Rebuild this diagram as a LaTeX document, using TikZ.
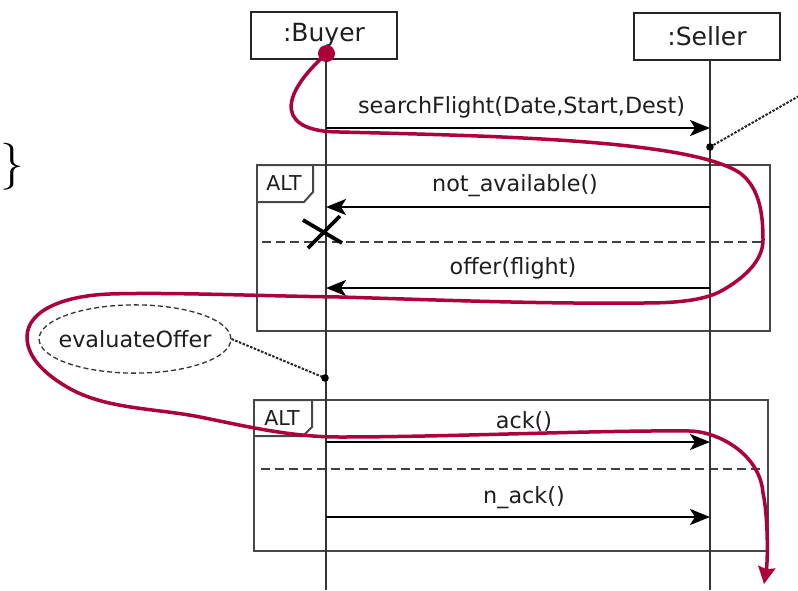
\documentclass[tikz,border=0pt]{standalone}
\usepackage{fontspec}
\newfontfamily\dejavu{DejaVu Sans}
\usetikzlibrary{arrows.meta,shapes.geometric}
\definecolor{trace}{RGB}{172,0,56}
\definecolor{ink}{RGB}{30,30,30}
\tikzset{
  lifebox/.style={draw=black!85, line width=2pt, fill=white, minimum width=146pt, minimum height=47pt, inner sep=0pt, text=ink, font=\dejavu\fontsize{25}{25}\selectfont},
  lifeline/.style={draw=black!80, line width=2.3pt},
  msg/.style={draw=black, line width=2.2pt, -{Stealth[length=20pt,width=16pt,inset=5pt]}},
  framebox/.style={draw=black!72, line width=2pt},
  sepline/.style={draw=black!75, line width=2pt, dash pattern=on 9pt off 5pt},
  lbl/.style={inner sep=0pt, text=ink, font=\dejavu\fontsize{22.3}{22.3}\selectfont},
  altlbl/.style={inner sep=0pt, text=ink, font=\dejavu\fontsize{20.5}{20.5}\selectfont},
  noteline/.style={draw=black!85, line width=2pt, dash pattern=on 2.5pt off 1.5pt},
  tracepath/.style={draw=trace, line width=3.5pt, -{Stealth[length=17pt,width=17pt,inset=2pt]}},
}
\begin{document}
\begin{tikzpicture}[x=1pt,y=-1pt]
\useasboundingbox (0,0) rectangle (798,590);
\fill[white] (0,0) rectangle (798,590);

% brace
\node[inner sep=0pt] (brace) at (12.5,167) {\fontsize{47}{47}\selectfont\}};

% frames
\draw[framebox] (257,165) rectangle (770,331);
\draw[framebox] (257,165) -- (313,165) -- (313,192) -- (304,202) -- (257,202);
\node[altlbl] (alt1) at (284,183) {ALT};
\draw[framebox] (254,400) rectangle (768,551);
\draw[framebox] (254,400) -- (312,400) -- (312,427) -- (303,436) -- (254,436);
\node[altlbl] (alt2) at (282,418) {ALT};

% separators
\coordinate (sep1a) at (262,242); \coordinate (sep1b) at (766,242);
\coordinate (sep2a) at (261,469); \coordinate (sep2b) at (763,469);
\draw[sepline] (sep1a) -- (sep1b);
\draw[sepline] (sep2a) -- (sep2b);

% lifelines
\node[lifebox] (buyer) at (324,35) {:Buyer};
\node[lifebox] (seller) at (707,36) {:Seller};
\coordinate (bt) at (326,58.5); \coordinate (bb) at (326,590);
\coordinate (st) at (710,59.5); \coordinate (sb) at (710,590);
\draw[lifeline] (bt) -- (bb);
\draw[lifeline] (st) -- (sb);

% messages
\coordinate (b1) at (326,128); \coordinate (s1) at (710,128);
\coordinate (b2) at (326,207); \coordinate (s2) at (710,207);
\coordinate (b3) at (326,288); \coordinate (s3) at (710,288);
\coordinate (b4) at (326,442); \coordinate (s4) at (710,442);
\coordinate (b5) at (326,517); \coordinate (s5) at (710,517);
\draw[msg] (b1) -- (s1);
\draw[msg] (s2) -- (b2);
\draw[msg] (s3) -- (b3);
\draw[msg] (b4) -- (s4);
\draw[msg] (b5) -- (s5);
\node[lbl] (m1) at (521.5,107) {searchFlight(Date,Start,Dest)};
\node[lbl] (m2) at (515,186) {not\_available()};
\node[lbl] (m3) at (513,268) {offer(flight)};
\node[lbl] (m4) at (524,421) {ack()};
\node[lbl] (m5) at (524,498) {n\_ack()};

% destruction cross
\draw[line width=3.8pt, black] (303,220) -- (342,243);
\draw[line width=3.8pt, black] (340,216) -- (308,248);

% notes
\node[ellipse, draw=black!80, line width=1.3pt, dash pattern=on 5pt off 3pt, inner xsep=-8.6pt, inner ysep=15.5pt, text=ink, font=\dejavu\fontsize{22.3}{22.3}\selectfont] (eval) at (135,339) {evaluateOffer};
\coordinate (d2) at (325,378);
\draw[noteline] (eval.east) -- (d2);
\fill[black] (d2) circle (3.8pt);
\coordinate (d1) at (710,147);
\coordinate (nfree) at (799,96);
\draw[noteline] (d1) -- (nfree);

% trace
\coordinate (t0) at (326.5,53.5);
\coordinate (tend) at (764,584);
\draw[tracepath] (t0) .. controls (275,100) and (280,132) .. (340,132)
 .. controls (500,136) and (690,140) .. (740,173)
 .. controls (760,188) and (763,215) .. (763,240)
 .. controls (763,262) and (742,279) .. (723,290)
 .. controls (702,302.5) and (665,303) .. (640,303)
 .. controls (540,304) and (440,300) .. (340,297)
 .. controls (260,296) and (170,292) .. (110,294)
 .. controls (65,295.5) and (27,310) .. (27,337)
 .. controls (27,360) and (50,377) .. (67,387)
 .. controls (105,409.5) and (155,408) .. (200,417)
 .. controls (245,426) and (290,437) .. (340,437)
 .. controls (450,437) and (600,430) .. (690,431)
 .. controls (720,432) and (760,455) .. (763,493)
 .. controls (768,515) and (768,560) .. (tend);
\fill[black] (d1) circle (3.8pt);
\fill[trace] (t0) circle (8.5pt);
\end{tikzpicture}
\end{document}
